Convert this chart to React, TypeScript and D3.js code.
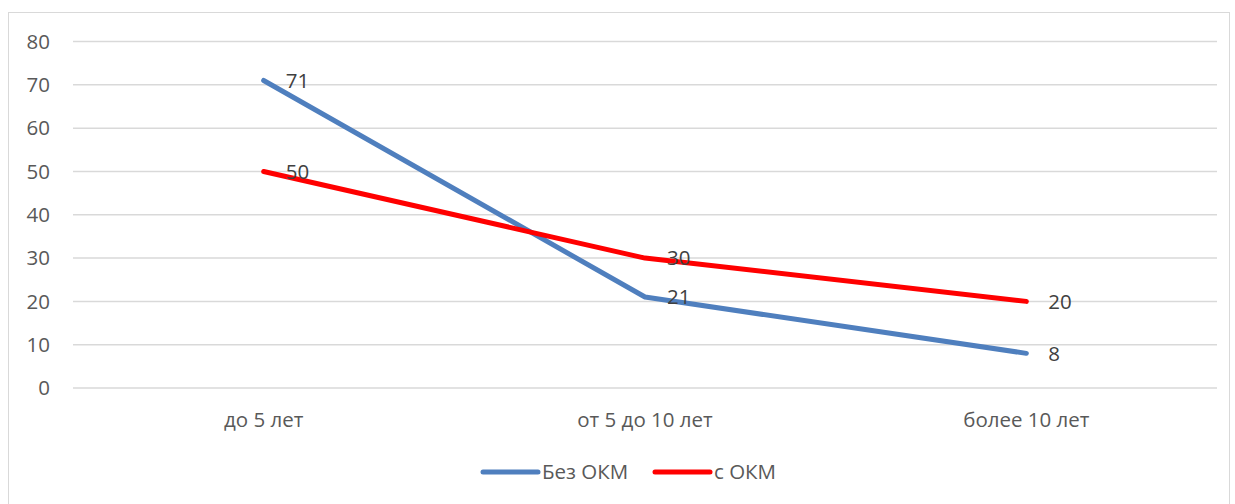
import React from "react";
import * as d3 from "d3";

const categories: string[] = ["до 5 лет", "от 5 до 10 лет", "более 10 лет"];
const seriesNames: string[] = ["Без ОКМ", "с ОКМ"];
const withoutOKM: number[] = [71, 21, 8];
const withOKM: number[] = [50, 30, 20];
const yTicks: number[] = [0, 10, 20, 30, 40, 50, 60, 70, 80];
const colors: string[] = ["#4F7FBE", "#FF0000"];

const W = 1235;
const H = 504;
const FONT = "'Open Sans', 'Noto Sans', sans-serif";
const TEXT = "#595959";
const FS = 20.5;

export default function App() {
  const x = d3.scaleBand<string>().domain(categories).range([73, 1217]);
  const y = d3.scaleLinear().domain([0, 80]).range([388, 41.5]);
  const cx = (c: string) => (x(c) as number) + x.bandwidth() / 2;
  const line = d3
    .line<number>()
    .x((_, i) => cx(categories[i]))
    .y((d) => y(d));
  const series = [withoutOKM, withOKM];

  return (
    <svg
      width={W}
      height={H}
      style={{ position: "absolute", left: 0, top: 0, fontFamily: FONT }}
    >
      <rect x={0} y={0} width={W} height={H} fill="#fff" />
      <rect x={8.5} y={12.5} width={1221} height={500} fill="#fff" stroke="#d9d9d9" strokeWidth={1} />
      {yTicks.map((t) => (
        <g key={t}>
          <line x1={73} x2={1217} y1={y(t)} y2={y(t)} stroke="#d9d9d9" strokeWidth={1.5} />
          <text x={50} y={y(t)} dy="0.35em" textAnchor="end" fontSize={FS} fill={TEXT}>
            {t}
          </text>
        </g>
      ))}
      {categories.map((c) => (
        <text key={c} x={cx(c)} y={420} dy="0.35em" textAnchor="middle" fontSize={FS} fill={TEXT}>
          {c}
        </text>
      ))}
      {series.map((s, i) => (
        <path
          key={i}
          d={line(s) as string}
          fill="none"
          stroke={colors[i]}
          strokeWidth={5}
          strokeLinecap="round"
          strokeLinejoin="round"
        />
      ))}
      {series.map((s, i) =>
        s.map((v, j) => (
          <text
            key={`${i}-${j}`}
            x={cx(categories[j]) + 22}
            y={y(v)}
            dy="0.35em"
            fontSize={FS}
            fill="#404040"
          >
            {v}
          </text>
        ))
      )}
      {seriesNames.map((n, i) => {
        const lx = i === 0 ? 483 : 655;
        return (
          <g key={n}>
            <line x1={lx} x2={lx + 55} y1={472} y2={472} stroke={colors[i]} strokeWidth={5} strokeLinecap="round" />
            <text x={lx + 59} y={472} dy="0.35em" fontSize={FS} fill={TEXT}>
              {n}
            </text>
          </g>
        );
      })}
    </svg>
  );
}
